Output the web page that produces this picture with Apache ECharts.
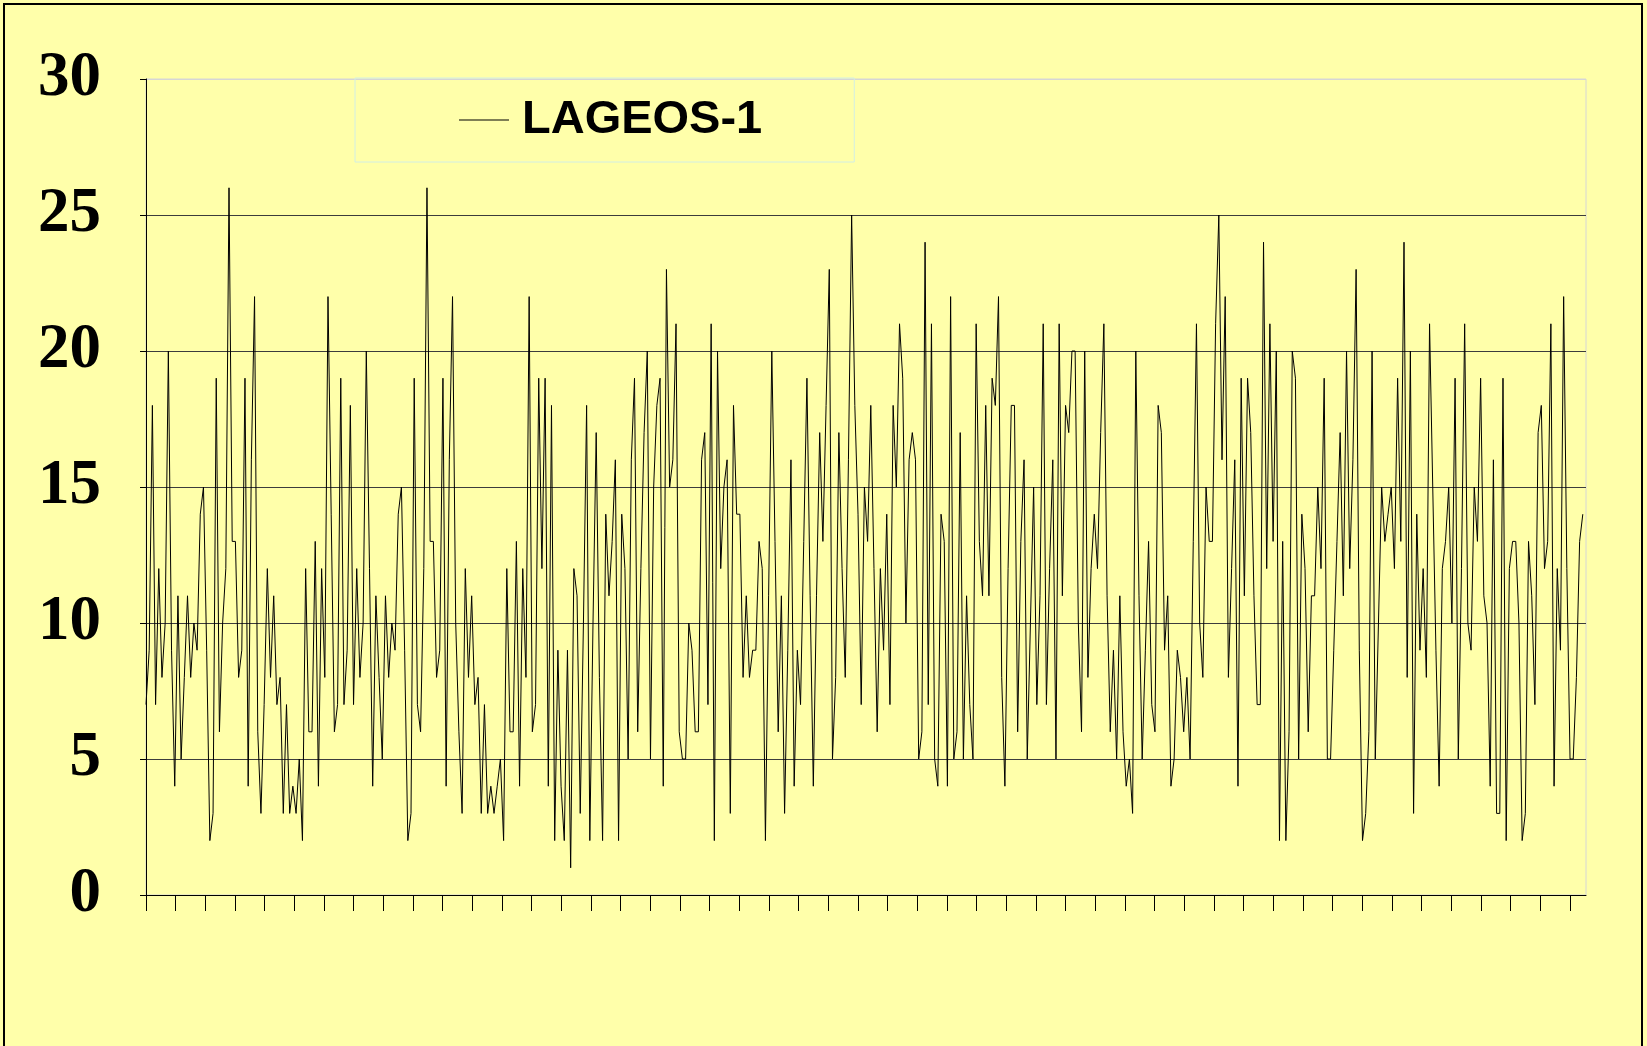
<!DOCTYPE html>
<html>
<head>
<meta charset="utf-8">
<title>LAGEOS-1</title>
<script src="https://cdn.jsdelivr.net/npm/echarts@6/dist/echarts.min.js"></script>
<style>
  html, body { margin: 0; padding: 0; background: #ffffaa; }
  #chart { width: 1647px; height: 1046px; }
</style>
</head>
<body>
<div id="chart"></div>
<script>
// series, one value per point
const seriesName = 'LAGEOS-1';
const yMin = 0;
const yMax = 30;
const yStep = 5;
const values = [
  7, 9, 18, 7, 12, 8, 10, 20, 9, 4,
  11, 5, 8, 11, 8, 10, 9, 14, 15, 9,
  2, 3, 19, 6, 10, 12, 26, 13, 13, 8,
  9, 19, 4, 16, 22, 6, 3, 7, 12, 8,
  11, 7, 8, 3, 7, 3, 4, 3, 5, 2,
  12, 6, 6, 13, 4, 12, 8, 22, 14, 6,
  7, 19, 7, 9, 18, 7, 12, 8, 10, 20,
  12, 4, 11, 8, 5, 11, 8, 10, 9, 14,
  15, 9, 2, 3, 19, 7, 6, 12, 26, 13,
  13, 8, 9, 19, 4, 16, 22, 10, 6, 3,
  12, 8, 11, 7, 8, 3, 7, 3, 4, 3,
  4, 5, 2, 12, 6, 6, 13, 4, 12, 8,
  22, 6, 7, 19, 12, 19, 4, 18, 2, 9,
  4, 2, 9, 1, 12, 11, 3, 10, 18, 2,
  10, 17, 8, 2, 14, 11, 13, 16, 2, 14,
  12, 5, 16, 19, 6, 12, 17, 20, 5, 15,
  18, 19, 4, 23, 15, 16, 21, 6, 5, 5,
  10, 9, 6, 6, 16, 17, 7, 21, 2, 20,
  12, 15, 16, 3, 18, 14, 14, 8, 11, 8,
  9, 9, 13, 12, 2, 11, 20, 13, 6, 11,
  3, 9, 16, 4, 9, 7, 13, 19, 11, 4,
  11, 17, 13, 18, 23, 5, 8, 17, 12, 8,
  16, 25, 18, 14, 7, 15, 13, 18, 12, 6,
  12, 9, 14, 7, 18, 15, 21, 19, 10, 16,
  17, 16, 5, 6, 24, 7, 21, 5, 4, 14,
  13, 4, 22, 5, 6, 17, 5, 11, 7, 5,
  21, 13, 11, 18, 11, 19, 18, 22, 8, 4,
  12, 18, 18, 6, 13, 16, 5, 10, 15, 7,
  11, 21, 7, 12, 16, 5, 21, 11, 18, 17,
  20, 20, 10, 6, 20, 8, 12, 14, 12, 17,
  21, 11, 6, 9, 5, 11, 6, 4, 5, 3,
  20, 11, 5, 9, 13, 7, 6, 18, 17, 9,
  11, 4, 5, 9, 8, 6, 8, 5, 13, 21,
  10, 8, 15, 13, 13, 21, 25, 16, 22, 8,
  12, 16, 4, 19, 11, 19, 17, 11, 7, 7,
  24, 12, 21, 13, 20, 2, 13, 2, 6, 20,
  19, 5, 14, 12, 6, 11, 11, 15, 12, 19,
  5, 5, 9, 13, 17, 11, 20, 12, 16, 23,
  9, 2, 3, 6, 20, 5, 10, 15, 13, 14,
  15, 12, 19, 13, 24, 8, 20, 3, 14, 9,
  12, 8, 21, 15, 9, 4, 12, 13, 15, 10,
  19, 5, 12, 21, 10, 9, 15, 13, 19, 11,
  10, 4, 16, 3, 3, 19, 2, 12, 13, 13,
  10, 2, 3, 13, 11, 7, 17, 18, 12, 13,
  21, 4, 12, 9, 22, 12, 5, 5, 8, 13,
  14
];

// x ticks: unlabeled, a little over 9 points apart
const xTickStep = 9.29;
const xTicks = [];
for (let t = 0; t <= values.length - 1; t += xTickStep) {
  xTicks.push(+t.toFixed(2));
}

// gridlines 0..30; the top one is the pale plot border
const gridColors = ['#3c3c3c', '#3c3c3c', '#3c3c3c', '#3c3c3c', '#3c3c3c', '#3c3c3c', '#d6d6d6'];

const chart = echarts.init(document.getElementById('chart'));
chart.setOption({
  backgroundColor: '#ffffaa',
  animation: false,
  grid: {
    left: 146,
    right: 61,
    top: 79,
    bottom: 151,
    show: true,
    borderColor: '#d6d6d6',
    borderWidth: 1
  },
  legend: {
    left: 355,
    top: 78,
    padding: [16, 92, 16, 104],
    borderColor: '#d2eee4',
    borderWidth: 1,
    icon: 'rect',
    itemWidth: 50,
    itemHeight: 1,
    selectedMode: false,
    data: [{name: seriesName, itemStyle: {color: '#000'}}],
    textStyle: {
      fontFamily: 'Liberation Sans',
      fontWeight: 'bold',
      fontSize: 47,
      lineHeight: 52,
      color: '#000',
      padding: [0, 0, 0, 8]
    }
  },
  xAxis: {
    type: 'value',
    min: 0,
    max: values.length,
    axisLine: {show: true, onZero: true, lineStyle: {color: '#000', width: 1}},
    axisTick: {show: true, length: 16, lineStyle: {color: '#000', width: 1}, customValues: xTicks},
    axisLabel: {show: false},
    splitLine: {show: false}
  },
  yAxis: {
    type: 'value',
    min: yMin,
    max: yMax,
    interval: yStep,
    axisLine: {show: true, lineStyle: {color: '#000', width: 1}},
    axisTick: {show: true, length: 6, lineStyle: {color: '#000', width: 1}},
    axisLabel: {
      fontFamily: 'Liberation Serif',
      fontWeight: 'bold',
      fontSize: 63,
      color: '#000',
      margin: 45
    },
    splitLine: {lineStyle: {color: gridColors, width: 1}}
  },
  series: [{
    name: seriesName,
    type: 'line',
    data: values.map((v, i) => [i, v]),
    showSymbol: false,
    symbol: 'none',
    silent: true,
    lineStyle: {color: '#000', width: 1},
    itemStyle: {color: '#000'}
  }],
  graphic: [{
    type: 'rect',
    shape: {x: 4, y: 4, width: 1638, height: 1060},
    style: {fill: 'none', stroke: '#000', lineWidth: 2},
    silent: true
  }]
});
</script>
</body>
</html>
